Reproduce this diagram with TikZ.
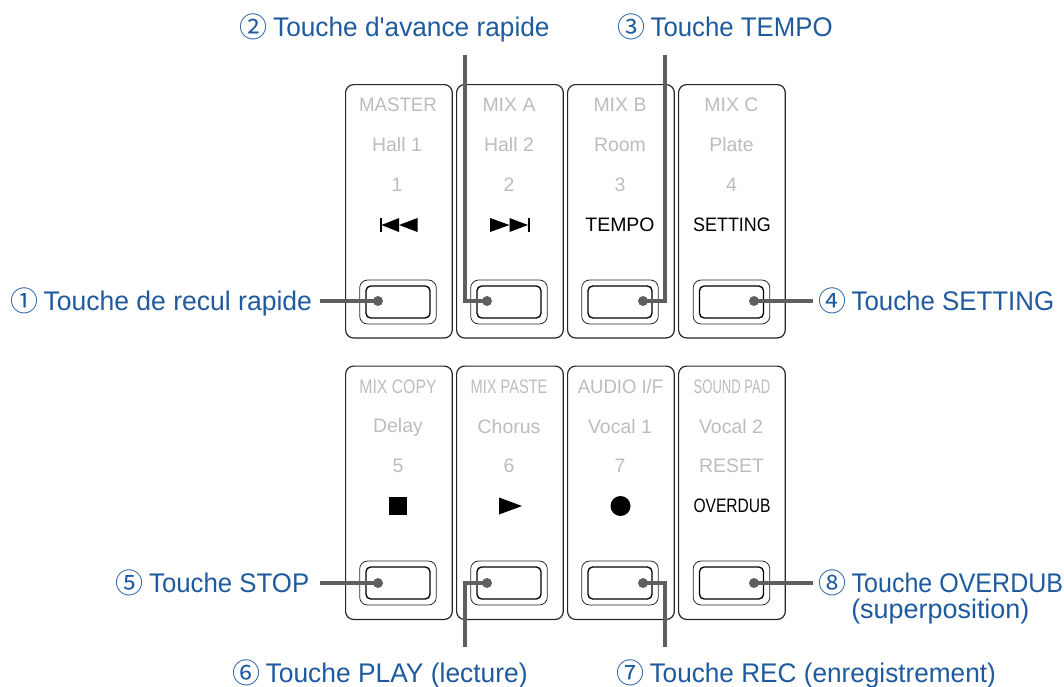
\documentclass[tikz,border=0pt]{standalone}
\usepackage{fontspec}
\setmainfont{Liberation Sans}
\newfontfamily\lblfont{Liberation Sans}
\newfontfamily\numfont{Noto Sans CJK SC}
\definecolor{lblblue}{HTML}{1F5A9E}
\definecolor{keygray}{HTML}{BCBCBC}
\definecolor{leadgray}{HTML}{5F5F5F}
\tikzset{
 x=0.75pt,y=-0.75pt,
 panel/.style={draw=black!85,line width=0.9pt,rounded corners=6pt,minimum width=80pt,minimum height=190pt,inner sep=0pt,anchor=north west},
 keyouter/.style={draw=black!85,line width=0.6pt,rounded corners=6pt,minimum width=57.5pt,minimum height=33pt,inner sep=0pt},
 keyinner/.style={draw=black,line width=1pt,rounded corners=3.5pt,minimum width=48pt,minimum height=24pt,inner sep=0pt},
 dotend/.style={circle,fill=leadgray,minimum size=7.5pt,inner sep=0pt},
 leader/.style={draw=leadgray,line width=3pt,line join=miter},
 lbl/.style={text=lblblue,font=\lblfont\fontsize{20.2pt}{24pt}\selectfont,inner sep=0pt,anchor=base west},
 dim/.style={text=keygray,font=\fontsize{14.6pt}{17pt}\selectfont,inner sep=0pt},
 act/.style={text=black,font=\fontsize{14.6pt}{17pt}\selectfont,inner sep=0pt},
}
\newcommand{\cnum}[1]{{\numfont\fontsize{21pt}{24pt}\selectfont\raisebox{-1pt}{#1}}\hspace{4pt}}
\newcommand{\nrw}[2]{\scalebox{#1}[1]{#2}}
\begin{document}
\begin{tikzpicture}
\useasboundingbox (0,0) rectangle (1064,686);
% panels
\node[panel] (p1) at (345,84) {};
\node[panel] (p2) at (456,84) {};
\node[panel] (p3) at (567,84) {};
\node[panel] (p4) at (678,84) {};
\node[panel] (p5) at (345,365.5) {};
\node[panel] (p6) at (456,365.5) {};
\node[panel] (p7) at (567,365.5) {};
\node[panel] (p8) at (678,365.5) {};
% keys
\foreach \n/\x/\y in {1/398/302,2/509/302,3/620/302,4/731.5/302,5/398/583,6/509/583,7/620/583,8/731.5/583}{
 \node[keyouter] (ko\n) at (\x,\y) {};
 \node[keyinner] (ki\n) at (\x,\y) {};
}
% key texts
\node[dim] (t1a) at (398,105) {\nrw{0.96}{MASTER}};
\node[dim] (t1b) at (397,145) {Hall 1};
\node[dim] (t1c) at (397,185) {1};
\node[dim] (t2a) at (509,105) {MIX A};
\node[dim] (t2b) at (509,145) {Hall 2};
\node[dim] (t2c) at (509,185) {2};
\node[dim] (t3a) at (620,105) {MIX B};
\node[dim] (t3b) at (620,145) {Room};
\node[dim] (t3c) at (620,185) {3};
\node[act] (t3d) at (620,225) {TEMPO};
\node[dim] (t4a) at (731.5,105) {MIX C};
\node[dim] (t4b) at (731.5,145) {Plate};
\node[dim] (t4c) at (731.5,185) {4};
\node[act] (t4d) at (732,225) {\nrw{0.92}{SETTING}};
\node[dim] (t5a) at (398,387) {\nrw{0.81}{MIX COPY}};
\node[dim] (t5b) at (398,427) {Delay};
\node[dim] (t5c) at (398,466) {5};
\node[dim] (t6a) at (509,387) {\nrw{0.75}{MIX PASTE}};
\node[dim] (t6b) at (509,427) {Chorus};
\node[dim] (t6c) at (509,466) {6};
\node[dim] (t7a) at (620.5,387) {\nrw{0.95}{AUDIO I/F}};
\node[dim] (t7b) at (620,427) {Vocal 1};
\node[dim] (t7c) at (620,466) {7};
\node[dim] (t8a) at (732,387) {\nrw{0.67}{SOUND PAD}};
\node[dim] (t8b) at (731,427) {Vocal 2};
\node[dim] (t8c) at (731.5,466) {RESET};
\node[act] (t8d) at (732,506) {\nrw{0.8}{OVERDUB}};
% transport symbols
\fill (380,218) rectangle (381.5,232);
\fill (381.5,225) -- (399,218) -- (399,232) -- cycle;
\fill (399,225) -- (417.5,218) -- (417.5,232) -- cycle;
\fill (528,218) rectangle (529.5,232);
\fill (528,225) -- (509.5,218) -- (509.5,232) -- cycle;
\fill (509.5,225) -- (490,218) -- (490,232) -- cycle;
\fill (389,497) rectangle (407,515);
\fill (499,497.5) -- (522,506) -- (499,514.5) -- cycle;
\fill (620.5,506) circle (10);
% dots
\node[dotend] (d1) at (378,301) {};
\node[dotend] (d2) at (487,301) {};
\node[dotend] (d3) at (643,301) {};
\node[dotend] (d4) at (754,301) {};
\node[dotend] (d5) at (378,583) {};
\node[dotend] (d6) at (487,583) {};
\node[dotend] (d7) at (643,583) {};
\node[dotend] (d8) at (754,583) {};
% free ends
\coordinate (e1) at (320,301);
\coordinate (e2) at (465,55);
\coordinate (e3) at (665,55);
\coordinate (e4) at (813,301);
\coordinate (e5) at (320,583);
\coordinate (e6) at (465,647);
\coordinate (e7) at (665,647);
\coordinate (e8) at (813,583);
\draw[leader] (e1) -- (d1.center);
\draw[leader] (e2) |- (d2.center);
\draw[leader] (e3) |- (d3.center);
\draw[leader] (e4) -- (d4.center);
\draw[leader] (e5) -- (d5.center);
\draw[leader] (e6) |- (d6.center);
\draw[leader] (e7) |- (d7.center);
\draw[leader] (e8) -- (d8.center);
% labels
\node[lbl] (l1) at (10,310) {\cnum{①}\nrw{0.985}{Touche de recul rapide}};
\node[lbl] (l2) at (239.5,36) {\cnum{②}\nrw{0.975}{Touche d'avance rapide}};
\node[lbl] (l3) at (617,36) {\cnum{③}\nrw{0.958}{Touche TEMPO}};
\node[lbl] (l4) at (818,310) {\cnum{④}\nrw{0.96}{Touche SETTING}};
\node[lbl] (l5) at (115.5,592) {\cnum{⑤}\nrw{0.958}{Touche STOP}};
\node[lbl] (l6) at (232,682) {\cnum{⑥}\nrw{0.98}{Touche PLAY (lecture)}};
\node[lbl] (l7) at (616,682) {\cnum{⑦}\nrw{0.972}{Touche REC (enregistrement)}};
\node[lbl] (l8) at (818,592) {\cnum{⑧}\nrw{0.93}{Touche OVERDUB}};
\node[lbl] (l8b) at (851,618) {(superposition)};
\end{tikzpicture}
\end{document}
